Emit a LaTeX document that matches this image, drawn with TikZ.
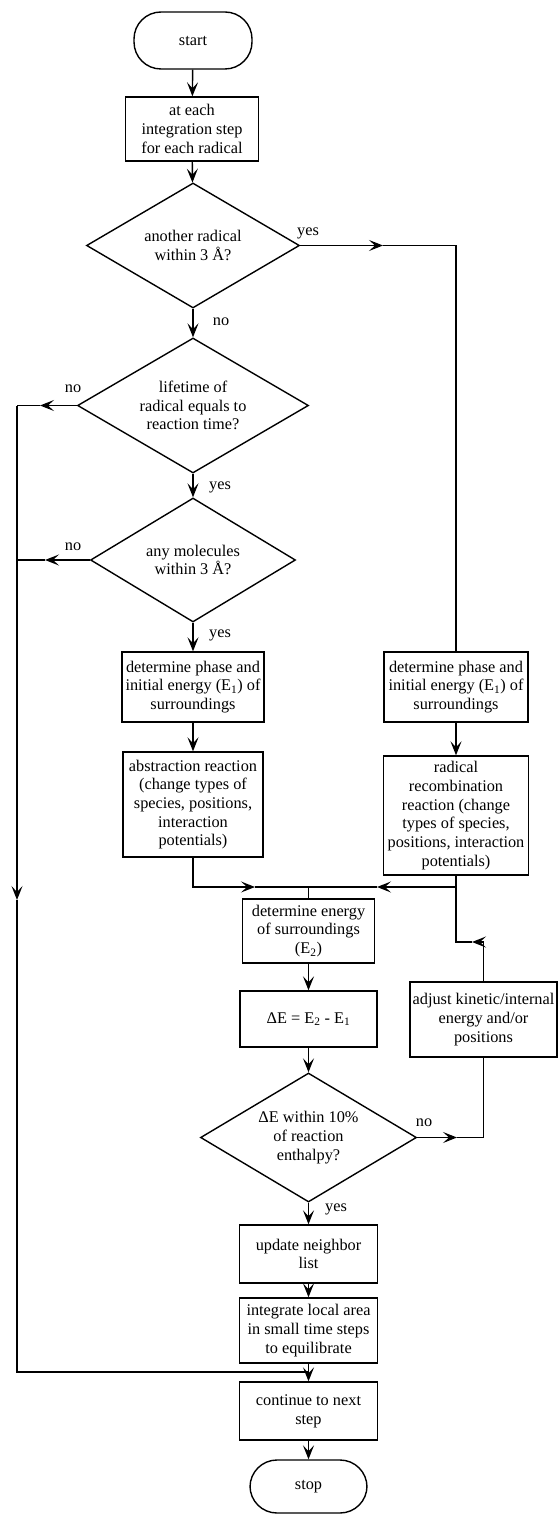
\documentclass[tikz,border=0pt]{standalone}
\usepackage{fontspec}
\setmainfont{Liberation Serif}
\usetikzlibrary{shapes.geometric,arrows.meta}
\begin{document}
\begin{tikzpicture}[x=1pt,y=-1pt, line width=1.4pt,
  font=\fontsize{16.3}{18.7}\selectfont,
  >={Stealth[length=14pt,width=11pt,inset=6pt]},
  box/.style={draw, rectangle, align=center, inner sep=2pt},
  term/.style={draw, rectangle, rounded corners=27pt, align=center},
  dec/.style={draw, diamond, align=center, inner sep=0pt, aspect=1.7},
  lbl/.style={inner sep=0pt}]
\useasboundingbox (0,0) rectangle (558,1514);

% main left column
\node[term, minimum width=118pt, minimum height=57pt] (start) at (193,40.5) {start};
\node[box, minimum width=133pt, minimum height=64pt] (b1) at (192,129) {at each\\integration step\\for each radical};
\node[dec, minimum width=213pt, minimum height=125pt] (d1) at (193,245.5) {another radical\\within 3 Å?};
\node[dec, minimum width=231pt, minimum height=135pt] (d2) at (193,405.5) {lifetime of\\radical equals to\\reaction time?};
\node[dec, minimum width=205pt, minimum height=124pt] (d3) at (193,560) {any molecules\\within 3 Å?};
\node[box, minimum width=142pt, minimum height=70pt] (lp) at (193,687) {determine phase and\\initial energy (E\textsubscript{1}) of\\surroundings};
\node[box, minimum width=140pt, minimum height=105pt] (ab) at (193,804.5) {abstraction reaction\\(change types of\\species, positions,\\interaction\\potentials)};

% right column
\node[box, minimum width=144pt, minimum height=70pt] (rp) at (456,687) {determine phase and\\initial energy (E\textsubscript{1}) of\\surroundings};
\node[box, minimum width=145pt, minimum height=119pt] (rc) at (456,815.5) {radical\\recombination\\reaction (change\\types of species,\\positions, interaction\\potentials)};
\node[box, minimum width=147pt, minimum height=75pt] (adj) at (483.5,1019.5) {adjust kinetic/internal\\energy and/or\\positions};

% lower column
\node[box, minimum width=132pt, minimum height=64pt] (e2) at (308.5,931) {determine energy\\of surroundings\\(E\textsubscript{2})};
\node[box, minimum width=137pt, minimum height=56pt] (de) at (308.5,1019) {ΔE = E\textsubscript{2} - E\textsubscript{1}};
\node[dec, minimum width=216pt, minimum height=129pt] (d4) at (308.5,1137.5) {ΔE within 10\%\\of reaction\\enthalpy?};
\node[box, minimum width=138pt, minimum height=58pt] (up) at (308.5,1254) {update neighbor\\list};
\node[box, minimum width=138pt, minimum height=65pt] (ig) at (308.5,1330.5) {integrate local area\\in small time steps\\to equilibrate};
\node[box, minimum width=138pt, minimum height=58pt] (ct) at (308.5,1411) {continue to next\\step};
\node[term, minimum width=117pt, minimum height=53pt] (stop) at (308.5,1486.5) {stop};

% labels
\node[lbl] (ly1) at (308,233) {yes};
\node[lbl] (ln1) at (221,322) {no};
\node[lbl] (ln2) at (73,389) {no};
\node[lbl] (ly2) at (220,487) {yes};
\node[lbl] (ln3) at (73,547) {no};
\node[lbl] (ly3) at (220,635) {yes};
\node[lbl] (ln4) at (424,1123) {no};
\node[lbl] (ly4) at (336,1209) {yes};

% coordinates
\coordinate (yA) at (383,245.5);
\coordinate (yC) at (456,245.5);
\coordinate (n2A) at (40,405.5);
\coordinate (L2) at (17,405.5);
\coordinate (n3A) at (45,560);
\coordinate (L3) at (17,560);
\coordinate (Ld) at (17,900);
\coordinate (Lb) at (17,1372);
\coordinate (Lj) at (308.5,1372);
\coordinate (ab1) at (193,887);
\coordinate (mL) at (255,887);
\coordinate (jn) at (308.5,887);
\coordinate (rc1) at (456,887);
\coordinate (mR) at (377,887);
\coordinate (a1) at (483.5,942);
\coordinate (aA) at (472,942);
\coordinate (a2) at (456,942);
\coordinate (n4A) at (457,1137.5);
\coordinate (n4C) at (483.5,1137.5);

% connectors
\draw[->] (start) -- (b1);
\draw[->] (b1) -- (d1);
\draw[->] (d1) -- (d2);
\draw[->] (d2) -- (d3);
\draw[->] (d3) -- (lp);
\draw[->] (lp) -- (ab);
\draw[->] (rp) -- (rc);

\draw[->] (d1.east) -- (yA);
\draw (yA) -- (yC) -- (rp.north);

\draw[->] (d2.west) -- (n2A);
\draw (n2A) -- (L2);
\draw[->] (d3.west) -- (n3A);
\draw (n3A) -- (L3);
\draw[->] (L2) -- (Ld);
\draw (Ld) -- (Lb) -- (Lj);

\draw[->] (ab.south) -- (ab1) -- (mL);
\draw (mL) -- (jn);
\draw[->] (rc.south) -- (rc1) -- (mR);
\draw (mR) -- (jn) -- (e2.north);
\draw[->] (adj.north) -- (a1) -- (aA);
\draw (aA) -- (a2) -- (rc1);

\draw[->] (e2) -- (de);
\draw[->] (de) -- (d4);
\draw[->] (d4.east) -- (n4A);
\draw (n4A) -- (n4C) -- (adj.south);
\draw[->] (d4) -- (up);
\draw[->] (up) -- (ig);
\draw[->] (ig) -- (ct);
\draw[->] (ct) -- (stop);
\end{tikzpicture}
\end{document}
